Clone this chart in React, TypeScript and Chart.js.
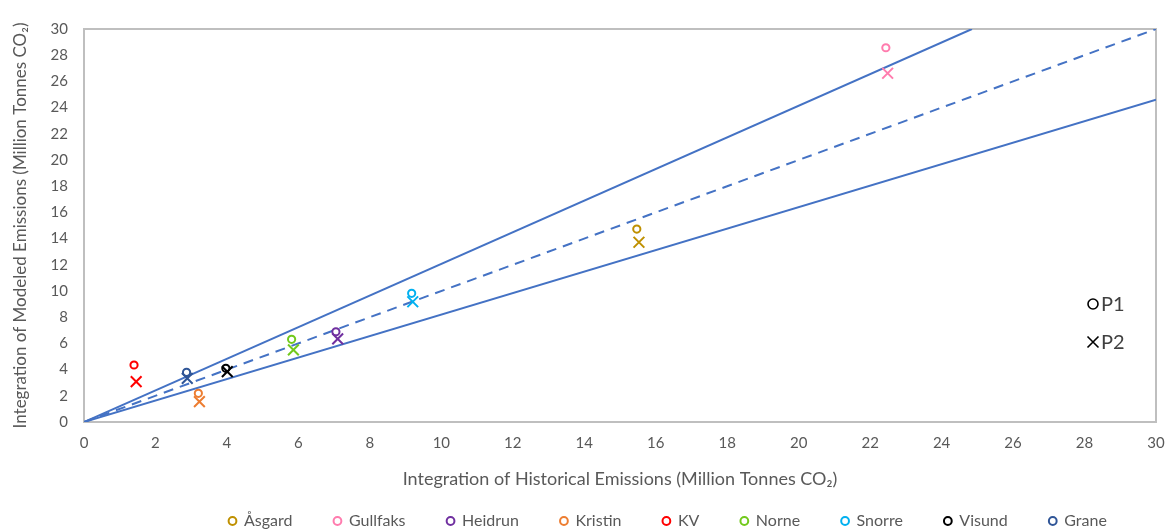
import React, { useEffect, useRef } from 'react';
import { Chart, registerables } from 'chart.js';

Chart.register(...registerables);

const FONT = 'Lato, "Open Sans", sans-serif';

// Fields (legend order)
const fieldNames = ['Åsgard', 'Gullfaks', 'Heidrun', 'Kristin', 'KV', 'Norne', 'Snorre', 'Visund', 'Grane'];
const fieldColors = ['#BF9000', '#FF7CAE', '#7030A0', '#ED7D31', '#FF0000', '#72C91C', '#00B0F0', '#000000', '#2F5597'];

// P1 (circles)
const p1Historical = [15.47, 22.44, 7.05, 3.20, 1.40, 5.81, 9.17, 3.97, 2.87];
const p1Modeled = [14.73, 28.57, 6.89, 2.19, 4.35, 6.31, 9.82, 4.10, 3.79];

// P2 (crosses)
const p2Historical = [15.53, 22.49, 7.10, 3.23, 1.46, 5.86, 9.20, 4.01, 2.89];
const p2Modeled = [13.72, 26.62, 6.35, 1.55, 3.08, 5.50, 9.18, 3.84, 3.33];

// Reference lines
const upperBoundX = [0, 24.85];
const upperBoundY = [0, 30];
const parityX = [0, 30];
const parityY = [0, 30];
const lowerBoundX = [0, 30];
const lowerBoundY = [0, 24.6];

// Axes
const axisMin = 0;
const axisMax = 30;
const tickStep = 2;
const xTitle = 'Integration of Historical Emissions (Million Tonnes CO₂)';
const yTitle = 'Integration of Modeled Emissions (Million Tonnes CO₂)';
const markerLegend = ['P1', 'P2'];

const LINE_BLUE = '#4472C4';
const TEXT_GRAY = '#595959';

export default function App() {
  const canvasRef = useRef<HTMLCanvasElement | null>(null);

  useEffect(() => {
    document.body.style.margin = '0';
    const canvas = canvasRef.current;
    if (!canvas) return;

    const fieldDatasets = fieldNames.map((name, i) => ({
      label: name,
      data: [
        { x: p1Historical[i], y: p1Modeled[i] },
        { x: p2Historical[i], y: p2Modeled[i] },
      ],
      pointStyle: ['circle', 'crossRot'],
      pointRadius: [3.6, 7.6],
      pointBorderWidth: 2,
      borderColor: fieldColors[i],
      pointBorderColor: fieldColors[i],
      backgroundColor: '#ffffff',
      pointBackgroundColor: '#ffffff',
      showLine: false,
      order: 0,
    }));

    const mkLine = (label: string, xs: number[], ys: number[], dash: number[]) => ({
      label,
      data: xs.map((x, i) => ({ x, y: ys[i] })),
      showLine: true,
      borderColor: LINE_BLUE,
      backgroundColor: LINE_BLUE,
      borderWidth: 2,
      borderDash: dash,
      pointRadius: 0,
      order: 1,
    });

    const lineDatasets = [
      mkLine('upper', upperBoundX, upperBoundY, []),
      mkLine('parity', parityX, parityY, [10, 7]),
      mkLine('lower', lowerBoundX, lowerBoundY, []),
    ];

    const framePlugin = {
      id: 'frame',
      beforeDatasetsDraw(chart: any) {
        const { ctx, chartArea: a } = chart;
        ctx.save();
        ctx.strokeStyle = '#BFBFBF';
        ctx.lineWidth = 2;
        ctx.strokeRect(a.left, a.top, a.right - a.left, a.bottom - a.top);
        ctx.restore();
      },
    };

    const legendPlacePlugin = {
      id: 'legendPlace',
      afterLayout(chart: any) {
        const lg = chart.legend;
        if (!lg || !lg.lineWidths) return;
        const pad = lg.options.labels.padding;
        const start = (lg.left + pad + lg.right - lg.lineWidths[0]) / 2;
        const dx = 229 - start;
        lg.left += dx;
        lg.right = Math.max(lg.right + dx, 1172);
        const newTop = 521 - pad - 8;
        lg.top = newTop;
        lg.bottom = 529;
        lg.height = lg.bottom - lg.top;
        lg.width = lg.right - lg.left;
      },
    };

    const markerLegendPlugin = {
      id: 'markerLegend',
      afterDraw(chart: any) {
        const { ctx, chartArea: a } = chart;
        const cx = a.right - 63;
        const y1 = a.top + 275;
        const y2 = a.top + 313;
        ctx.save();
        ctx.strokeStyle = '#000000';
        ctx.lineWidth = 1.6;
        ctx.beginPath();
        ctx.arc(cx, y1, 5, 0, Math.PI * 2);
        ctx.stroke();
        ctx.beginPath();
        ctx.moveTo(cx - 5.5, y2 - 5.5);
        ctx.lineTo(cx + 5.5, y2 + 5.5);
        ctx.moveTo(cx + 5.5, y2 - 5.5);
        ctx.lineTo(cx - 5.5, y2 + 5.5);
        ctx.stroke();
        ctx.fillStyle = '#404040';
        ctx.font = `20px ${FONT}`;
        ctx.textBaseline = 'middle';
        ctx.textAlign = 'left';
        ctx.fillText(markerLegend[0], cx + 8, y1 + 1);
        ctx.fillText(markerLegend[1], cx + 8, y2 + 1);
        ctx.restore();
      },
    };

    const chart = new Chart(canvas, {
      type: 'scatter',
      data: { datasets: [...fieldDatasets, ...lineDatasets] as any },
      options: {
        animation: false,
        responsive: false,
        maintainAspectRatio: false,
        devicePixelRatio: 1,
        layout: { padding: { top: 29, right: 16, left: 0, bottom: 0 } },
        plugins: {
          legend: {
            position: 'bottom',
            maxHeight: 39,
            labels: {
              usePointStyle: true,
              boxWidth: 7,
              boxHeight: 5.5,
              padding: 41.5,
              color: TEXT_GRAY,
              font: { family: FONT, size: 16 },
              filter: (item: any) => item.datasetIndex < fieldNames.length,
            },
          },
          tooltip: { enabled: false },
        },
        scales: {
          x: {
            type: 'linear',
            min: axisMin,
            max: axisMax,
            ticks: { stepSize: tickStep, color: TEXT_GRAY, font: { family: FONT, size: 15 }, padding: 12, maxRotation: 0 },
            grid: { display: false, drawTicks: false, tickLength: 0 },
            border: { display: false },
            title: {
              display: true,
              text: xTitle,
              color: TEXT_GRAY,
              font: { family: FONT, size: 18 },
              padding: { top: 0, bottom: 0 },
            },
            afterFit: (s: any) => {
              s.height = 68;
              s.paddingLeft = 0;
              s.paddingRight = 0;
            },
          },
          y: {
            type: 'linear',
            min: axisMin,
            max: axisMax,
            ticks: { stepSize: tickStep, color: TEXT_GRAY, font: { family: FONT, size: 15 }, padding: 16 },
            grid: { display: false, drawTicks: false, tickLength: 0 },
            border: { display: false },
            title: {
              display: true,
              text: yTitle,
              color: TEXT_GRAY,
              font: { family: FONT, size: 17 },
              padding: { top: 10, bottom: 0 },
            },
            afterFit: (s: any) => {
              s.width = 84;
              s.paddingTop = 0;
              s.paddingBottom = 0;
            },
          },
        },
      } as any,
      plugins: [framePlugin, legendPlacePlugin, markerLegendPlugin],
    });

    return () => {
      chart.destroy();
    };
  }, []);

  return (
    <div style={{ position: 'relative', width: 1172, height: 529, background: '#ffffff' }}>
      <canvas ref={canvasRef} width={1172} height={529} style={{ display: 'block' }} />
    </div>
  );
}
